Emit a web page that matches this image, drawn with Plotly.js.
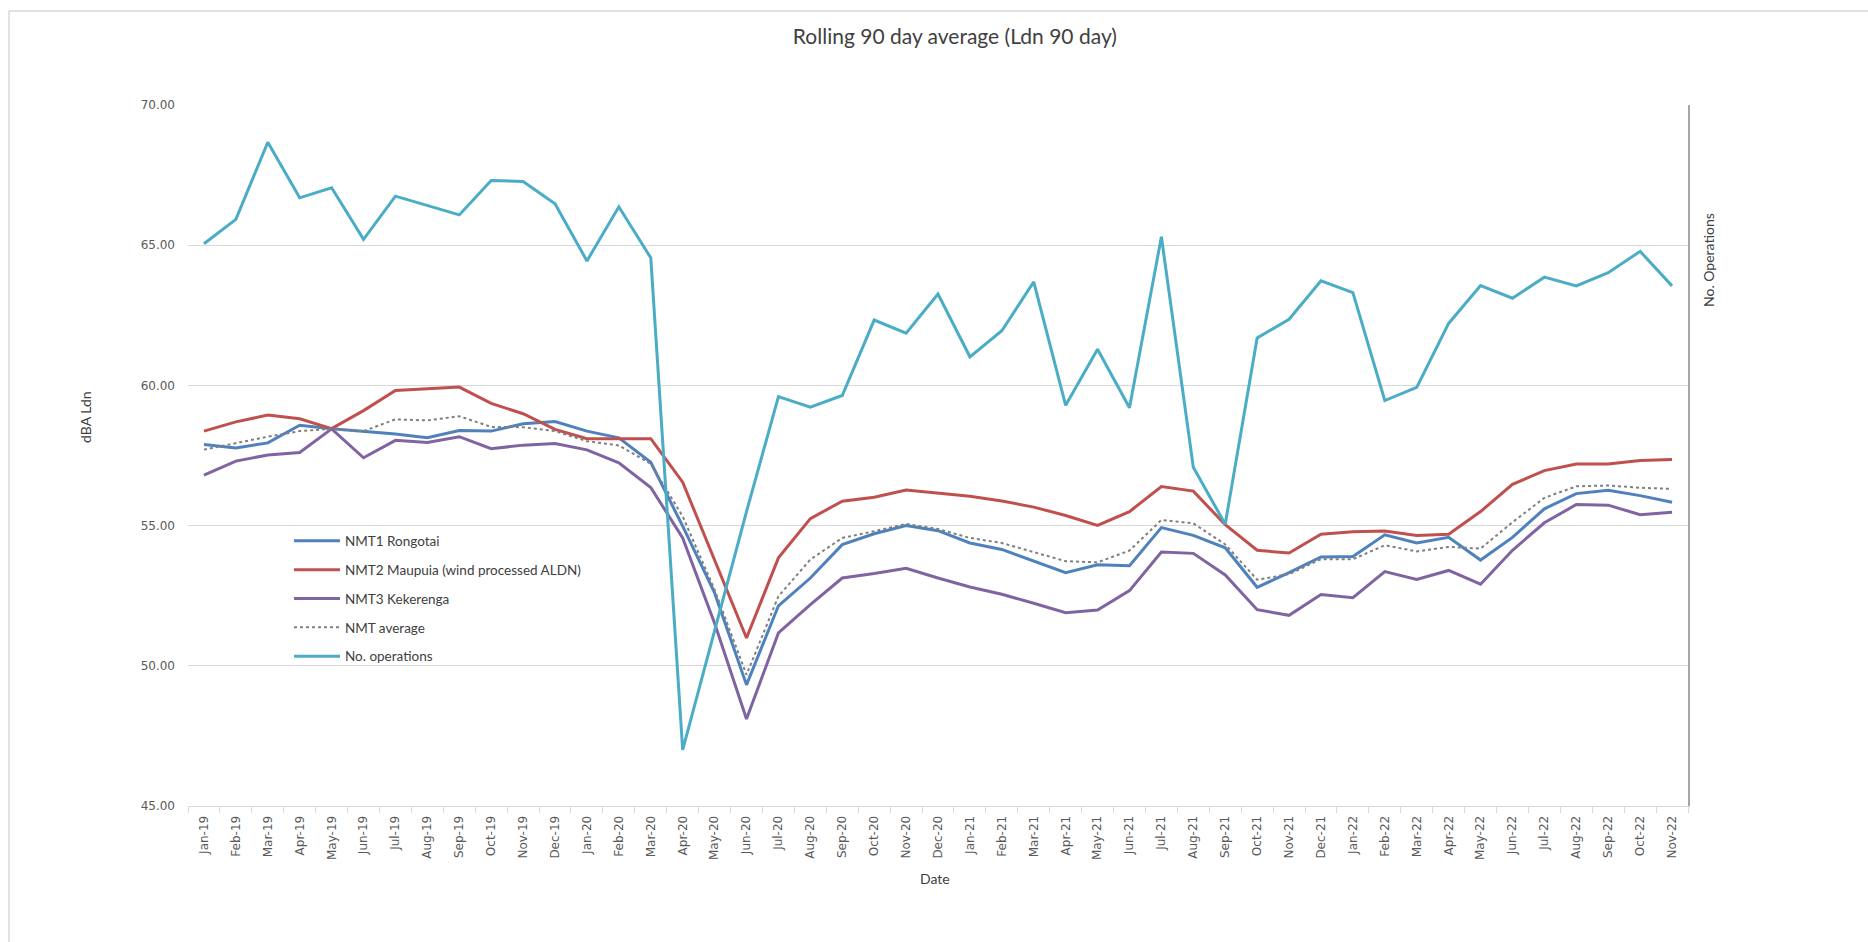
<!DOCTYPE html>
<html>
<head>
<meta charset="utf-8">
<script src="https://cdn.plot.ly/plotly-3.0.1.min.js"></script>
<style>
  html, body { margin: 0; padding: 0; background: #ffffff; }
  #chart { width: 1868px; height: 942px; }
</style>
</head>
<body>
<div id="chart"></div>
<script>
const months = ["Jan-19","Feb-19","Mar-19","Apr-19","May-19","Jun-19","Jul-19","Aug-19","Sep-19","Oct-19","Nov-19","Dec-19",
  "Jan-20","Feb-20","Mar-20","Apr-20","May-20","Jun-20","Jul-20","Aug-20","Sep-20","Oct-20","Nov-20","Dec-20",
  "Jan-21","Feb-21","Mar-21","Apr-21","May-21","Jun-21","Jul-21","Aug-21","Sep-21","Oct-21","Nov-21","Dec-21",
  "Jan-22","Feb-22","Mar-22","Apr-22","May-22","Jun-22","Jul-22","Aug-22","Sep-22","Oct-22","Nov-22"];

const nmt1Rongotai = [57.89,57.77,57.95,58.58,58.45,58.37,58.27,58.13,58.39,58.37,58.63,58.71,
  58.37,58.13,57.26,54.98,52.60,49.32,52.14,53.13,54.32,54.71,55.00,54.82,
  54.38,54.15,53.73,53.32,53.60,53.57,54.93,54.65,54.21,52.80,53.32,53.88,
  53.90,54.67,54.38,54.58,53.77,54.58,55.60,56.14,56.26,56.07,55.83];

const nmt2Maupuia = [58.37,58.70,58.94,58.81,58.46,59.10,59.82,59.89,59.94,59.36,58.99,58.43,
  58.10,58.10,58.10,56.55,53.80,50.99,53.85,55.25,55.87,56.01,56.27,56.17,
  56.05,55.88,55.66,55.36,55.01,55.50,56.39,56.23,55.03,54.12,54.02,54.69,
  54.78,54.81,54.65,54.69,55.50,56.47,56.96,57.20,57.20,57.32,57.36];

const nmt3Kekerenga = [56.80,57.30,57.52,57.61,58.45,57.42,58.04,57.96,58.17,57.74,57.87,57.93,
  57.70,57.24,56.36,54.56,51.52,48.10,51.17,52.18,53.13,53.29,53.48,53.13,
  52.81,52.55,52.23,51.89,51.99,52.68,54.06,54.01,53.24,52.00,51.80,52.54,
  52.43,53.36,53.08,53.40,52.91,54.12,55.10,55.75,55.73,55.39,55.48];

const nmtAverage = [57.71,57.95,58.17,58.37,58.45,58.37,58.79,58.75,58.90,58.52,58.51,58.37,
  58.01,57.86,57.20,55.33,52.71,49.68,52.48,53.79,54.56,54.80,55.06,54.88,
  54.56,54.38,54.05,53.73,53.69,54.11,55.20,55.08,54.33,53.07,53.27,53.80,
  53.80,54.30,54.08,54.24,54.18,55.12,55.99,56.40,56.43,56.35,56.31];

const noOperations = [65.05,65.92,68.67,66.69,67.05,65.21,66.75,66.42,66.08,67.31,67.27,66.48,
  64.44,66.37,64.55,47.00,51.30,55.50,59.60,59.22,59.64,62.33,61.86,63.26,
  61.02,61.95,63.69,59.29,61.29,59.20,65.30,57.08,55.05,61.69,62.36,63.73,
  63.31,59.46,59.93,62.21,63.56,63.11,63.86,63.55,64.02,64.78,63.55];

const yTicks = [45, 50, 55, 60, 65, 70];

const seriesNames = ["NMT1 Rongotai", "NMT2 Maupuia (wind processed ALDN)", "NMT3 Kekerenga", "NMT average", "No. operations"];

const txtFont = "Lato, 'Open Sans', sans-serif";
const tickFont = "'DejaVu Sans', Verdana, sans-serif";

function line(name, y, color, width, dash, yaxis) {
  return {
    type: "scatter", mode: "lines", name: name, x: months, y: y,
    yaxis: yaxis || "y", legendgroup: name,
    line: { color: color, width: width, dash: dash || "solid" },
    hoverinfo: "x+y+name"
  };
}

const traces = [
  line(seriesNames[0], nmt1Rongotai, "#4F81BD", 3),
  line(seriesNames[1], nmt2Maupuia, "#C0504D", 3),
  line(seriesNames[2], nmt3Kekerenga, "#8064A2", 3),
  line(seriesNames[3], nmtAverage, "#7F7F7F", 2, "dot"),
  line(seriesNames[4], noOperations, "#4BACC6", 3, "solid", "y2")
];

// paper coordinate helpers (plot area 188..1688 x, 105..806 y)
const L = 188, R = 180, T = 105, B = 136;
const PW = 1868 - L - R, PH = 942 - T - B;
const px = v => (v - L) / PW;
const py = v => (942 - B - v) / PH;

const layout = {
  width: 1868, height: 942,
  margin: { l: L, r: R, t: T, b: B, pad: 0 },
  paper_bgcolor: "#ffffff", plot_bgcolor: "#ffffff",
  title: {
    text: "Rolling 90 day average (Ldn 90 day)",
    font: { family: txtFont, size: 21, color: "#404040" },
    x: 955 / 1868, xanchor: "center", xref: "paper",
    y: 1 - 37 / 942, yanchor: "middle", yref: "container"
  },
  showlegend: true,
  legend: {
    x: px(289), xanchor: "left", y: py(525.5), yanchor: "top",
    bgcolor: "rgba(255,255,255,0)", borderwidth: 0,
    font: { family: txtFont, size: 13.5, color: "#404040" },
    traceorder: "grouped", tracegroupgap: 8.3, itemwidth: 46
  },
  xaxis: {
    type: "category", range: [-0.5, months.length - 0.5],
    tickangle: -90, tickfont: { family: tickFont, size: 12, color: "#595959" },
    ticks: "outside", tickson: "boundaries", ticklen: 6, tickcolor: "#D9D9D9", tickwidth: 1,
    showline: true, linecolor: "#D9D9D9", linewidth: 1,
    showgrid: false, zeroline: false, ticklabelstandoff: 4,
    fixedrange: true
  },
  yaxis: {
    range: [45, 70], tickvals: yTicks, tickformat: ".2f",
    tickfont: { family: tickFont, size: 12, color: "#595959" },
    showgrid: true, gridcolor: "#D9D9D9", gridwidth: 1,
    showline: false, zeroline: false, ticks: "", ticklabelstandoff: 12,
    fixedrange: true
  },
  yaxis2: {
    overlaying: "y", side: "right", range: [45, 70],
    showgrid: false, showticklabels: false, ticks: "", zeroline: false,
    showline: true, linecolor: "#A6A6A6", linewidth: 1.5,
    fixedrange: true
  },
  annotations: [
    { text: "dBA Ldn", xref: "paper", yref: "paper", x: px(86), y: py(417),
      showarrow: false, textangle: -90, xanchor: "center", yanchor: "middle",
      font: { family: txtFont, size: 14, color: "#404040" } },
    { text: "Date", xref: "paper", yref: "paper", x: px(935), y: py(878),
      showarrow: false, xanchor: "center", yanchor: "middle",
      font: { family: txtFont, size: 14, color: "#404040" } },
    { text: "No. Operations", xref: "paper", yref: "paper", x: px(1708), y: py(260),
      showarrow: false, textangle: -90, xanchor: "center", yanchor: "middle",
      font: { family: txtFont, size: 14, color: "#404040" } }
  ],
  shapes: [
    { type: "line", xref: "paper", yref: "paper", x0: px(9), x1: px(1880), y0: py(11), y1: py(11),
      line: { color: "#D9D9D9", width: 1.5 } },
    { type: "line", xref: "paper", yref: "paper", x0: px(9), x1: px(9), y0: py(11), y1: py(960),
      line: { color: "#D9D9D9", width: 1.5 } }
  ]
};

Plotly.newPlot("chart", traces, layout, { displayModeBar: false, staticPlot: false });
</script>
</body>
</html>
